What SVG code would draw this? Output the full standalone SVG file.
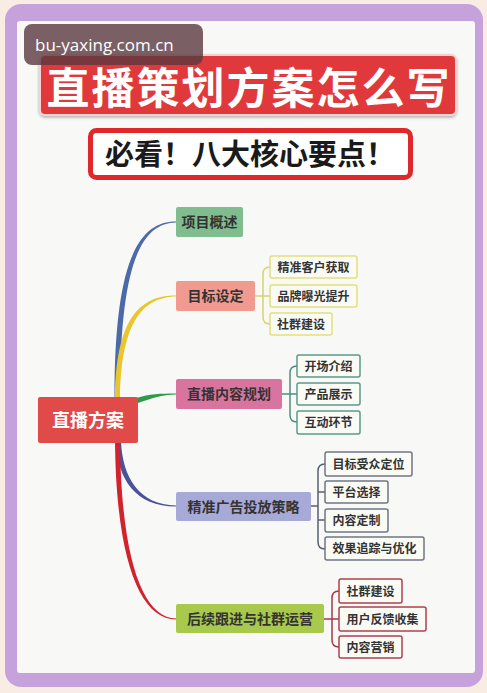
<svg xmlns="http://www.w3.org/2000/svg" width="487" height="693" viewBox="0 0 487 693">
<defs>
<style>
.t{font-family:"Noto Sans CJK SC","Noto Sans",sans-serif;font-weight:bold;text-anchor:middle}
.l1{font-size:14px;fill:#333}
.l2{font-size:12px;fill:#333}
.b2{fill:#fbfbf6;stroke-width:1.5}
.br{fill:none;stroke-width:1.5}
</style>
<filter id="sh" x="-5%" y="-10%" width="110%" height="130%"><feDropShadow dx="0" dy="1.5" stdDeviation="1.5" flood-color="#000" flood-opacity="0.3"/></filter>
</defs>
<rect width="487" height="693" fill="#f9ede3"/>
<rect x="5" y="4" width="478" height="683" rx="16" fill="#c6a2dc"/>
<rect x="17" y="21" width="458" height="652" rx="3" fill="#f8f9f7"/>

<g id="title">
<rect x="40" y="55" width="416" height="60" rx="5" fill="#e1383a" stroke="#f3d2d2" stroke-width="2" filter="url(#sh)"/>
<text x="249" y="104" class="t" font-size="43" letter-spacing="2" fill="#fff">直播策划方案怎么写</text>
</g>
<g id="subtitle">
<rect x="90.5" y="130.5" width="320" height="47" rx="6" fill="#fff" stroke="#e0282c" stroke-width="5"/>
<text x="250" y="165" class="t" font-size="29" fill="#1a1a1a">必看！八大核心要点！</text>
</g>
<g id="watermark">
<rect x="24" y="24" width="179" height="41" rx="8" fill="#5a3a3e" fill-opacity="0.8"/>
<text x="35" y="51" font-family="'Open Sans','Noto Sans',sans-serif" font-size="17" fill="#fff">bu-yaxing.com.cn</text>
</g>

<g id="connectors">
<path d="M114.5,398 C114.5,262 138,221.5 176,221.5 L176,222.5 C141,223 120,264 120,398 Z" fill="#4d6aa8"/>
<path d="M115,398 C116,318 140,295.5 176,295.5 L176,296.5 C143,297 121,322 120,398 Z" fill="#e9c62e"/>
<path d="M136,398 C150,394 160,393.5 176,393.5 L176,394.5 C162,395 152,398 138,403 Z" fill="#2f9a4a"/>
<path d="M116,440 C117,480 136,506.5 176,506.5 L176,505.5 C140,505 122,478 121,440 Z" fill="#4a5298"/>
<path d="M115,440 C116,560 140,619.5 176,619.5 L176,618.5 C143,618 121,560 120,440 Z" fill="#d2222e"/>
<path class="br" stroke="#d8d466" d="M255,296 H270 M270,267 C265,267 263,269 263,274 V317 C263,322 265,324 270,324"/>
<path class="br" stroke="#4f8f80" d="M282,394 H297 M297,366 C292,366 290,368 290,373 V415 C290,420 292,422 297,422"/>
<path class="br" stroke="#5a5f70" d="M311,506 H318 M325,464 C320,464 318,466 318,471 V542 C318,547 320,549 325,549 M318,492 H325 M318,520 H325"/>
<path class="br" stroke="#a8384a" d="M324,619 H339 M339,591 C334,591 332,593 332,598 V640 C332,645 334,647 339,647"/>
</g>

<g id="root">
<rect x="38" y="397" width="100" height="46" rx="2" fill="#e04a48"/>
<text x="88" y="426.5" class="t" font-size="18" fill="#fff">直播方案</text>
</g>

<g id="n1">
<rect x="176" y="207" width="67" height="30" rx="2" fill="#80bd8e"/>
<text x="209.5" y="227" class="t l1">项目概述</text>
</g>
<g id="n2">
<rect x="176" y="281" width="79" height="30" rx="2" fill="#f09a90"/>
<text x="215.5" y="301" class="t l1">目标设定</text>
</g>
<g id="n3">
<rect x="176" y="379" width="106" height="30" rx="2" fill="#d9749f"/>
<text x="229" y="399" class="t l1">直播内容规划</text>
</g>
<g id="n4">
<rect x="176" y="492" width="135" height="29" rx="2" fill="#a7a9d6"/>
<text x="243.5" y="511.5" class="t l1">精准广告投放策略</text>
</g>
<g id="n5">
<rect x="176" y="604" width="148" height="29" rx="2" fill="#a8c94c"/>
<text x="250" y="623.5" class="t l1">后续跟进与社群运营</text>
</g>

<g id="n2a"><rect x="270" y="256" width="87" height="22" rx="2" class="b2" stroke="#e2e07c"/><text x="313.5" y="271.5" class="t l2">精准客户获取</text></g>
<g id="n2b"><rect x="270" y="285" width="87" height="22" rx="2" class="b2" stroke="#e2e07c"/><text x="313.5" y="300.5" class="t l2">品牌曝光提升</text></g>
<g id="n2c"><rect x="270" y="313" width="62" height="22" rx="2" class="b2" stroke="#e2e07c"/><text x="301" y="328.5" class="t l2">社群建设</text></g>

<g id="n3a"><rect x="297" y="355" width="63" height="22" rx="2" class="b2" stroke="#5a9a8a"/><text x="328.5" y="370.5" class="t l2">开场介绍</text></g>
<g id="n3b"><rect x="297" y="383" width="63" height="22" rx="2" class="b2" stroke="#5a9a8a"/><text x="328.5" y="398.5" class="t l2">产品展示</text></g>
<g id="n3c"><rect x="297" y="411" width="63" height="23" rx="2" class="b2" stroke="#5a9a8a"/><text x="328.5" y="427" class="t l2">互动环节</text></g>

<g id="n4a"><rect x="325" y="452" width="87" height="24" rx="2" class="b2" stroke="#6f7585"/><text x="368.5" y="468.5" class="t l2">目标受众定位</text></g>
<g id="n4b"><rect x="325" y="481" width="63" height="22" rx="2" class="b2" stroke="#6f7585"/><text x="356.5" y="496.5" class="t l2">平台选择</text></g>
<g id="n4c"><rect x="325" y="509" width="63" height="23" rx="2" class="b2" stroke="#6f7585"/><text x="356.5" y="525" class="t l2">内容定制</text></g>
<g id="n4d"><rect x="325" y="537" width="99" height="23" rx="2" class="b2" stroke="#6f7585"/><text x="374.5" y="553" class="t l2">效果追踪与优化</text></g>

<g id="n5a"><rect x="339" y="579" width="63" height="24" rx="2" class="b2" stroke="#b04050"/><text x="370.5" y="595.5" class="t l2">社群建设</text></g>
<g id="n5b"><rect x="339" y="607" width="87" height="24" rx="2" class="b2" stroke="#b04050"/><text x="382.5" y="623.5" class="t l2">用户反馈收集</text></g>
<g id="n5c"><rect x="339" y="636" width="63" height="22" rx="2" class="b2" stroke="#b04050"/><text x="370.5" y="651.5" class="t l2">内容营销</text></g>
</svg>
